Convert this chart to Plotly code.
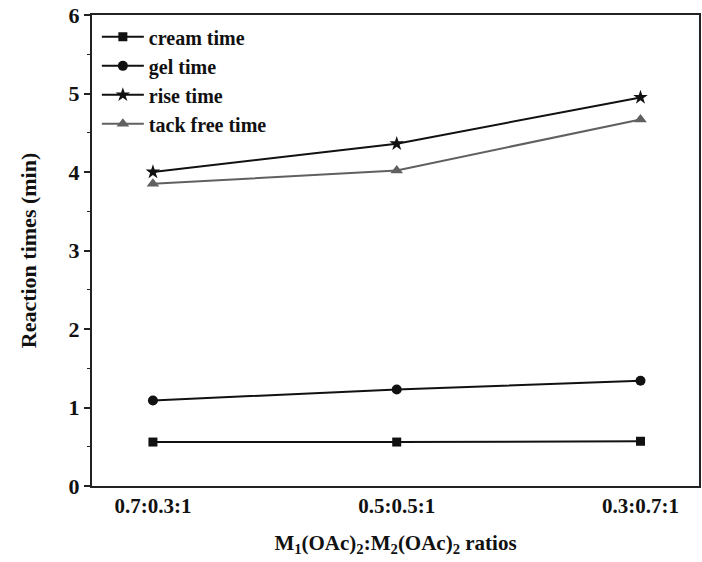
import plotly.graph_objects as go

# Metal acetate ratio groups on the x axis
ratios = ["0.7:0.3:1", "0.5:0.5:1", "0.3:0.7:1"]
x_pos = [0, 1, 2]

# Reaction times (min) for each foaming stage
cream_time = [0.56, 0.56, 0.57]
gel_time = [1.09, 1.23, 1.34]
rise_time = [4.00, 4.36, 4.95]
tack_free_time = [3.85, 4.02, 4.67]

y_ticks = [0, 1, 2, 3, 4, 5, 6]

FONT = "Liberation Serif"

series = [
    ("cream time", cream_time, "square", 9, "#111111"),
    ("gel time", gel_time, "circle", 10, "#111111"),
    ("rise time", rise_time, "star", 11, "#111111"),
    ("tack free time", tack_free_time, "triangle-up", 11, "#606060"),
]

fig = go.Figure()
for name, vals, sym, size, col in series:
    fig.add_trace(go.Scatter(
        x=x_pos, y=vals, name=name, mode="lines+markers",
        line=dict(color=col, width=2),
        marker=dict(symbol=sym, size=size, color=col, line=dict(width=0)),
    ))

fig.update_layout(
    width=702, height=562,
    margin=dict(l=92, r=1, t=15, b=76),
    paper_bgcolor="white", plot_bgcolor="white",
    font=dict(family=FONT, size=21, color="#111111", weight="bold"),
    showlegend=True,
    legend=dict(
        x=0.008, y=0.995, xanchor="left", yanchor="top",
        bgcolor="rgba(0,0,0,0)", borderwidth=0,
        font=dict(family=FONT, size=20, color="#111111", weight="bold"),
        tracegroupgap=0, itemwidth=42,
    ),
)

fig.update_xaxes(
    range=[-0.25, 2.24],
    tickmode="array", tickvals=x_pos, ticktext=ratios,
    ticks="", showgrid=False, zeroline=False,
    showline=True, linecolor="#222222", linewidth=2, mirror=True,
    tickfont=dict(family=FONT, size=21, color="#111111", weight="bold"),
    title=dict(text="M<sub>1</sub>(OAc)<sub>2</sub>:M<sub>2</sub>(OAc)<sub>2</sub> ratios",
               font=dict(family=FONT, size=21, color="#111111", weight="bold"),
               standoff=18),
)

fig.update_yaxes(
    range=[0, 6],
    tickmode="array", tickvals=y_ticks,
    ticks="outside", ticklen=6, tickwidth=1.5, tickcolor="#222222",
    minor=dict(dtick=0.5, ticks="outside", ticklen=3, tickwidth=1.2, tickcolor="#222222"),
    showgrid=False, zeroline=False,
    showline=True, linecolor="#222222", linewidth=2, mirror=True,
    tickfont=dict(family=FONT, size=22, color="#111111", weight="bold"),
    title=dict(text="Reaction times (min)",
               font=dict(family=FONT, size=22, color="#111111", weight="bold"),
               standoff=26),
)

fig.write_html("out.html")
